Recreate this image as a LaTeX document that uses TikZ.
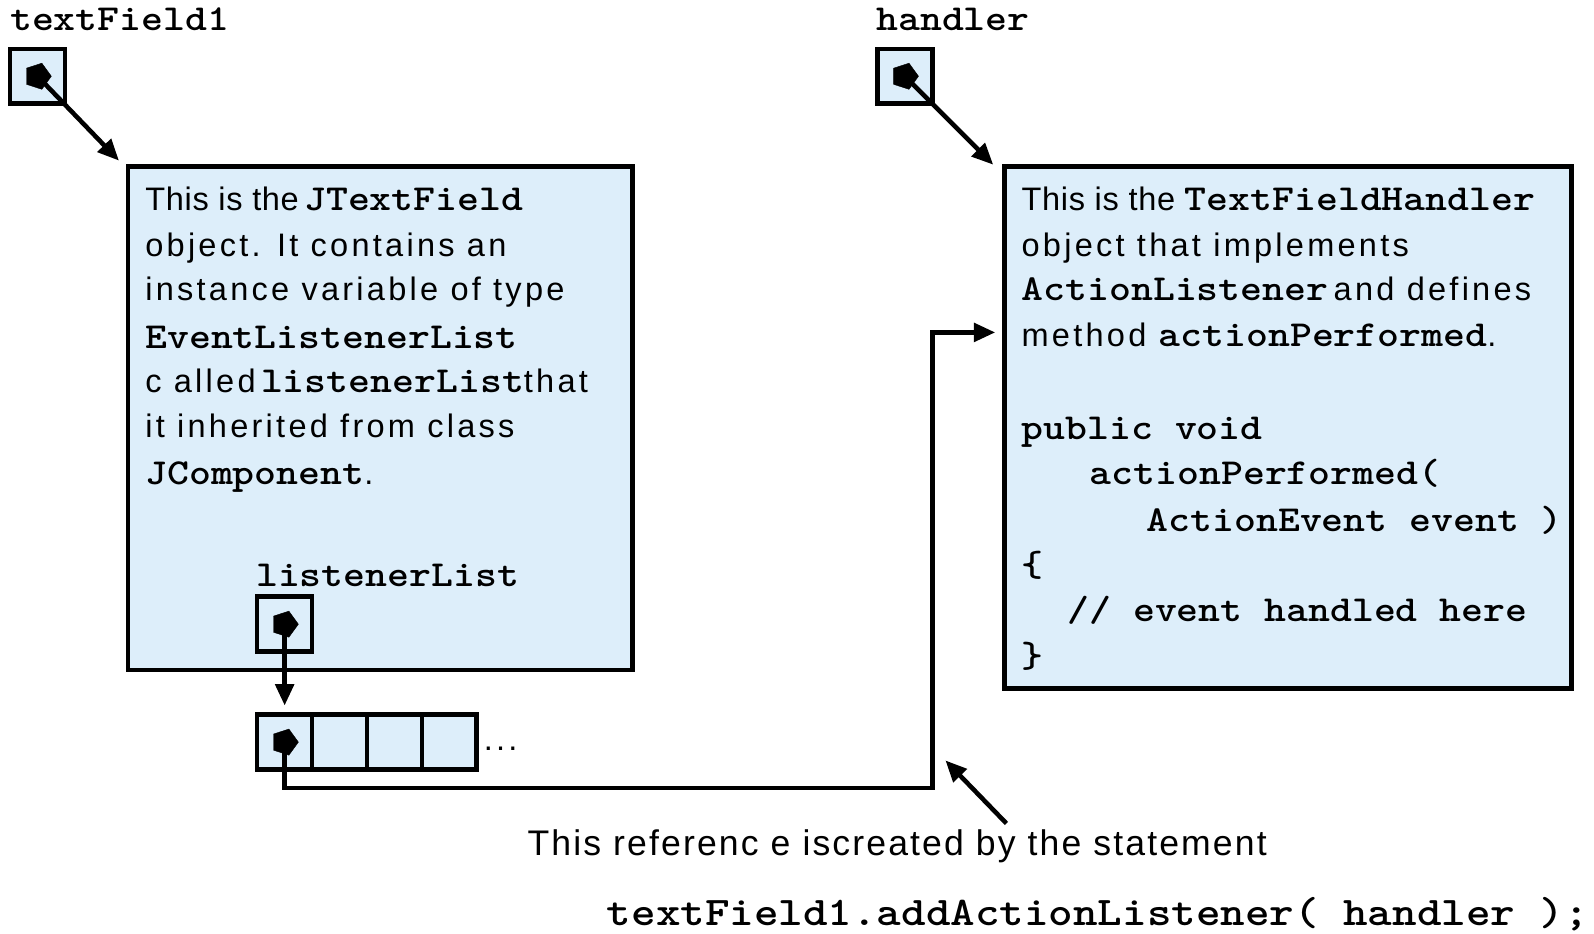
\documentclass[tikz,border=0pt]{standalone}
\usepackage{fontspec}
\setmainfont{Liberation Sans}
\newfontfamily\boxsansfam{Liberation Sans}[LetterSpace=10]
\newfontfamily\tightsansfam{Liberation Sans}[LetterSpace=2]
\newfontfamily\botsansfam{Liberation Sans}[LetterSpace=6]
\newfontfamily\monofam{lmmonolt10-bold.otf}[FakeStretch=1.14]
\newfontfamily\bigmonofam{lmmonolt10-bold.otf}[FakeStretch=1.15]
\usetikzlibrary{arrows.meta,shapes.geometric,calc}
\definecolor{boxblue}{RGB}{221,238,250}
\newcommand\sa{\boxsansfam\fontsize{32}{36}\selectfont}
\newcommand\tsa{\tightsansfam\fontsize{32}{36}\selectfont}
\newcommand\mo{\monofam\fontsize{36}{40}\selectfont}
\newcommand\bigmo{\bigmonofam\fontsize{40}{44}\selectfont}
\newcommand\bsa{\botsansfam\fontsize{35}{38}\selectfont}
\begin{document}
\begin{tikzpicture}[x=1pt,y=-1pt,
  frame/.style={draw, line width=4.5pt, fill=boxblue, inner sep=0, outer sep=0, anchor=north west},
  sbox/.style={frame, minimum width=54pt, minimum height=54pt},
  ptr/.style={regular polygon, regular polygon sides=5, rotate=-90, fill=black, draw=black, inner sep=0, minimum size=27pt},
  arr/.style={line width=4.5pt, -{Triangle[length=21pt,width=18pt]}},
  txt/.style={anchor=base west, inner sep=0, outer sep=0}]
\useasboundingbox (0,0) rectangle (1568,918);

% big boxes
\node[frame, minimum width=496pt, minimum height=495pt] (bigL) at (126,164) {};
\node[frame, line width=5pt, minimum width=558pt, minimum height=513pt] (bigR) at (988,164) {};

% small reference boxes
\node[sbox] (bx1) at (10,48) {};
\node[sbox] (bx2) at (863,48) {};
\node[sbox] (bx3) at (253,587) {};
\node[sbox] (a1) at (253,703) {};
\node[sbox] (a2) at (307,703) {};
\node[sbox] (a3) at (361,703) {};
\node[sbox] (a4) at (415,703) {};

% pointer blobs
\node[ptr] (p1) at (bx1.center) {};
\node[ptr] (p2) at (bx2.center) {};
\node[ptr] (p3) at (bx3.center) {};
\node[ptr] (p4) at (a1.center) {};

% labels
\node[txt] (l1) at (10,30) {\mo textField1};
\node[txt] (l2) at (862,30) {\mo handler};
\node[txt] (l3) at (252,577) {\mo listenerList};
\node[txt] (dots) at (476,738) {\sa ...};

% left box text
\node[txt] (L1) at (143,207) {\tsa This is the\,{\mo JTextField}};
\node[txt] (L2) at (143,252) {\sa object. It contains an};
\node[txt] (L3) at (143,296) {\sa instance variable of type};
\node[txt] (L4) at (143,343) {\mo EventListenerList};
\node[txt] (L5) at (143,386) {\sa c alled\,{\mo listenerList}that};
\node[txt] (L6) at (143,430) {\sa it inherited from class};
\node[txt] (L7) at (143,477) {{\mo JComponent}\sa .};

% right box text
\node[txt] (R1) at (1005,207) {\tsa This is the {\mo TextFieldHandler}};
\node[txt] (R2) at (1005,252) {\sa object that implements};
\node[txt] (R3) at (1005,296) {{\mo ActionListener}\sa\,and defines};
\node[txt] (R4) at (1005,341) {\sa method {\mo actionPerformed}.};
\node[txt] (R5) at (1005,432) {\mo public void};
\node[txt] (R6) at (1072,477) {\mo actionPerformed(};
\node[txt] (R7) at (1128,523) {\mo ActionEvent event )};
\node[txt] (R8) at (1005,567) {\mo \{};
\node[txt] (R9) at (1050,611) {\mo // event handled here};
\node[txt] (R10) at (1005,657) {\mo \}};

% bottom text
\node[txt] (B1) at (519,842) {\bsa This referenc e iscreated by the statement};
\node[txt] (B2) at (597,910) {\bigmo textField1.addActionListener( handler );};

% connector ends
\coordinate (t1) at (117,158);
\coordinate (t2) at (977,162);
\coordinate (t3) at (280,694);
\coordinate (c1) at (917,775);
\coordinate (t4) at (979,327);
\coordinate (s5) at (990,810);
\coordinate (t5) at (930,748);

\draw[arr] (p1.center) -- (t1);
\draw[arr] (p2.center) -- (t2);
\draw[arr] (p3.center) -- (t3);
\draw[arr] (p4.center) |- (c1) |- (t4);
\draw[arr] (s5) -- (t5);
\end{tikzpicture}
\end{document}
